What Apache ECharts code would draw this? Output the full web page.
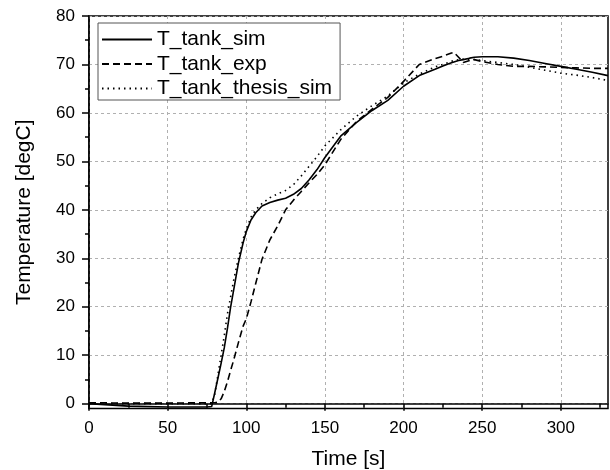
<!DOCTYPE html>
<html>
<head>
<meta charset="utf-8">
<script src="https://cdn.jsdelivr.net/npm/echarts@6/dist/echarts.min.js"></script>
<style>
  html, body { margin: 0; padding: 0; background: #fff; }
  #chart { width: 610px; height: 470px; }
</style>
</head>
<body>
<div id="chart"></div>
<script>
// time axis shared by the three curves
const time = [0, 25, 50, 75, 78, 80, 82, 84, 86, 88, 90, 92, 95, 98, 100, 103, 106, 110,
  115, 120, 125, 130, 135, 140, 145, 150, 160, 170, 180, 190, 200, 210, 220, 225, 230,
  232, 235, 238, 242, 245, 250, 260, 270, 280, 290, 300, 310, 320, 330]

const tankSim = [0, -0.5, -0.7, -0.7, -0.6, 2.3, 5.3, 8.3, 11.5, 15.5, 19.8, 23.5, 29, 33.2,
  35.5, 37.9, 39.4, 40.8, 41.5, 42, 42.4, 43.2, 44.4, 46.2, 48.3, 50.8, 55.2, 58, 60.5,
  62.6, 65.5, 67.7, 69, 69.7, 70.3, 70.5, 70.8, 71, 71.3, 71.5, 71.6, 71.6, 71.3, 70.8,
  70.2, 69.6, 69, 68.4, 67.7]

const tankExp = [0.2, 0.1, 0.1, 0.2, 0.2, 0.2, 0.3, 1, 2.5, 4.5, 6.8, 9, 12.6, 16, 17.5,
  21, 24.8, 29.8, 33.8, 36.7, 40, 42, 43.8, 45.6, 47.3, 49.3, 54.5, 58.2, 60.8, 63.2,
  66.5, 70, 71.2, 71.7, 72.3, 72.5, 71.5, 70.4, 70.8, 71, 70.6, 70, 69.6, 69.6, 69.5,
  69.4, 69.3, 69.2, 69.2]

const tankThesisSim = [0, 0, 0, 0, 0, 2, 6, 10, 14, 18.5, 22, 25.5, 30, 34, 36, 38.5, 40,
  41.3, 42.5, 43.3, 44, 45.2, 47, 49, 51, 53.2, 56.5, 59.3, 61.5, 63.5, 66.2, 68, 69.5,
  70, 70.6, 70.8, 71, 71.1, 71.1, 71, 70.8, 70.4, 70, 69.4, 68.8, 68.2, 67.8, 67.3, 66.7]

const xTicks = [0, 50, 100, 150, 200, 250, 300]
const xMinor = [25, 75, 125, 175, 225, 275, 325]
const yTicks = [0, 10, 20, 30, 40, 50, 60, 70, 80]
const yMinor = [5, 15, 25, 35, 45, 55, 65, 75]

const pairs = function (ys) {
    return time.map((t, i) => [t, ys[i]])
}

const font = 'Liberation Sans, Arial, sans-serif'
const gridLine = { show: true, lineStyle: { color: '#b0b0b0', type: [3, 3], width: 1 } }

const myChart = echarts.init(document.getElementById('chart'))

const option = {
    animation: false,
    textStyle: { fontFamily: font },
    grid: {
        left: 89, right: 2, top: 16, bottom: 61.5,
        outerBoundsMode: 'none', containLabel: false,
        show: true, borderColor: '#000', borderWidth: 1.5, backgroundColor: '#fff'
    },
    legend: {
        orient: 'vertical',
        left: 98, top: 23,
        padding: [6, 8, 1, 3],
        itemWidth: 50, itemHeight: 14, itemGap: 3.5,
        backgroundColor: '#fff',
        borderColor: '#555', borderWidth: 1,
        itemStyle: { opacity: 0 },
        textStyle: { fontSize: 21, color: '#000', fontFamily: font },
        data: ['T_tank_sim', 'T_tank_exp', 'T_tank_thesis_sim']
    },
    xAxis: [
        {
            type: 'value', min: 0, max: 330, interval: 50,
            name: 'Time [s]', nameLocation: 'middle', nameGap: 40,
            nameTextStyle: { fontSize: 21, color: '#000', fontFamily: font },
            axisLine: { lineStyle: { color: '#000', width: 1.5 } },
            axisTick: { inside: false, length: 7, customValues: xTicks, lineStyle: { color: '#000', width: 1.5 } },
            axisLabel: { customValues: xTicks, fontSize: 17, color: '#000', margin: 11, fontFamily: font },
            splitLine: gridLine
        },
        {
            type: 'value', min: 0, max: 330, position: 'bottom',
            axisLine: { show: false },
            axisTick: { inside: false, length: 4, customValues: xMinor, lineStyle: { color: '#000', width: 1.5 } },
            axisLabel: { show: false },
            splitLine: { show: false }
        }
    ],
    yAxis: [
        {
            type: 'value', min: -1, max: 80,
            name: 'Temperature [degC]', nameLocation: 'middle', nameGap: 54,
            nameTextStyle: { fontSize: 21, color: '#000', fontFamily: font },
            axisLine: { lineStyle: { color: '#000', width: 1.5 } },
            axisTick: { inside: false, length: 7, customValues: yTicks, lineStyle: { color: '#000', width: 1.5 } },
            axisLabel: { customValues: yTicks, fontSize: 17, color: '#000', margin: 14, fontFamily: font },
            splitLine: gridLine
        },
        {
            type: 'value', min: -1, max: 80, position: 'left',
            axisLine: { show: false },
            axisTick: { inside: false, length: 4, customValues: yMinor, lineStyle: { color: '#000', width: 1.5 } },
            axisLabel: { show: false },
            splitLine: { show: false }
        }
    ],
    series: [
        {
            name: 'T_tank_sim', type: 'line', symbol: 'none',
            data: pairs(tankSim),
            lineStyle: { color: '#000', width: 1.6, type: 'solid' },
            itemStyle: { color: '#000' }
        },
        {
            name: 'T_tank_exp', type: 'line', symbol: 'none',
            data: pairs(tankExp),
            lineStyle: { color: '#000', width: 1.6, type: [7, 4] },
            itemStyle: { color: '#000' }
        },
        {
            name: 'T_tank_thesis_sim', type: 'line', symbol: 'none',
            data: pairs(tankThesisSim),
            lineStyle: { color: '#000', width: 1.6, type: [1.5, 4] },
            itemStyle: { color: '#000' }
        }
    ]
}

myChart.setOption(option)
</script>
</body>
</html>
